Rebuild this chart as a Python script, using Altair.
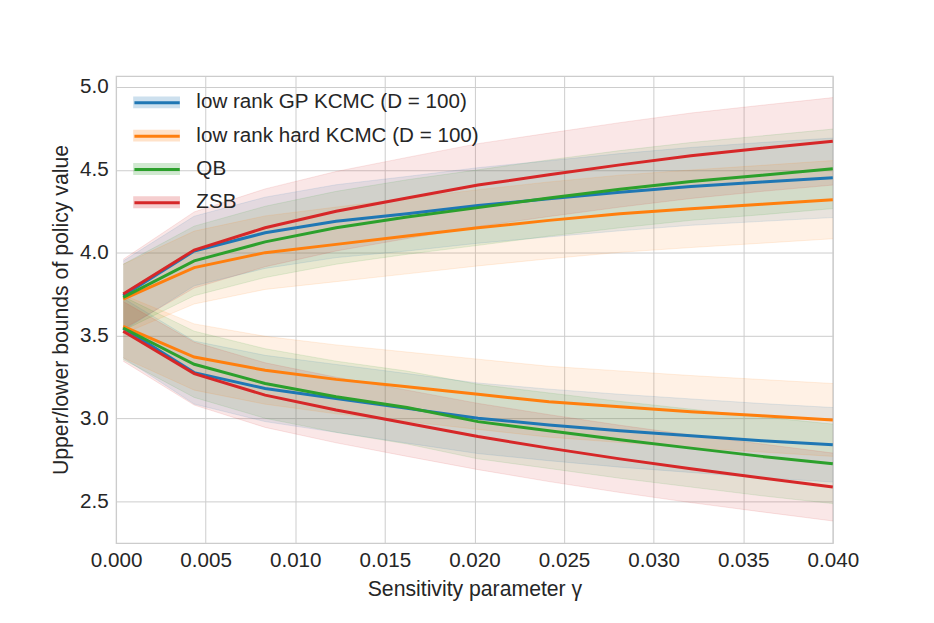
import altair as alt
import pandas as pd

# ---- data ----
gamma = [0.0004, 0.00436, 0.00832, 0.01228, 0.01624, 0.0202,
         0.02416, 0.02812, 0.03208, 0.03604, 0.04]

methods = ["low rank GP KCMC (D = 100)", "low rank hard KCMC (D = 100)", "QB", "ZSB"]
colors = ["#1f77b4", "#ff7f0e", "#2ca02c", "#d62728"]

# upper bound means
gp_upper = [3.74, 4.01, 4.12, 4.19, 4.235, 4.285, 4.325, 4.365, 4.40, 4.427, 4.452]
hard_upper = [3.72, 3.91, 4.00, 4.05, 4.10, 4.15, 4.195, 4.235, 4.265, 4.292, 4.32]
qb_upper = [3.73, 3.95, 4.065, 4.15, 4.215, 4.272, 4.33, 4.383, 4.43, 4.467, 4.506]
zsb_upper = [3.75, 4.016, 4.15, 4.25, 4.33, 4.408, 4.47, 4.53, 4.585, 4.63, 4.672]

# upper bound band half widths
gp_upper_sd = [0.21, 0.21, 0.215, 0.22, 0.225, 0.228, 0.23, 0.233, 0.235, 0.238, 0.24]
hard_upper_sd = [0.21, 0.22, 0.222, 0.225, 0.228, 0.23, 0.232, 0.233, 0.234, 0.235, 0.236]
qb_upper_sd = [0.20, 0.21, 0.215, 0.22, 0.225, 0.228, 0.23, 0.233, 0.235, 0.238, 0.24]
zsb_upper_sd = [0.21, 0.23, 0.235, 0.24, 0.245, 0.25, 0.252, 0.255, 0.258, 0.26, 0.264]

# lower bound means
gp_lower = [3.545, 3.276, 3.18, 3.12, 3.06, 3.00, 2.96, 2.925, 2.895, 2.865, 2.84]
hard_lower = [3.555, 3.37, 3.29, 3.235, 3.19, 3.145, 3.10, 3.07, 3.04, 3.015, 2.99]
qb_lower = [3.545, 3.326, 3.21, 3.13, 3.065, 2.98, 2.925, 2.87, 2.82, 2.77, 2.725]
zsb_lower = [3.525, 3.27, 3.14, 3.05, 2.97, 2.89, 2.82, 2.755, 2.695, 2.64, 2.585]

# lower bound band half widths
gp_lower_sd = [0.18, 0.19, 0.20, 0.205, 0.21, 0.213, 0.216, 0.22, 0.222, 0.224, 0.225]
hard_lower_sd = [0.19, 0.20, 0.205, 0.208, 0.21, 0.212, 0.214, 0.216, 0.218, 0.219, 0.22]
qb_lower_sd = [0.19, 0.20, 0.21, 0.215, 0.22, 0.225, 0.228, 0.232, 0.235, 0.238, 0.24]
zsb_lower_sd = [0.18, 0.19, 0.195, 0.198, 0.20, 0.20, 0.202, 0.203, 0.204, 0.205, 0.205]

x_ticks = [0.0, 0.005, 0.01, 0.015, 0.02, 0.025, 0.03, 0.035, 0.04]
y_ticks = [2.5, 3.0, 3.5, 4.0, 4.5, 5.0]

series = [
    (methods[0], gp_upper, gp_upper_sd, gp_lower, gp_lower_sd),
    (methods[1], hard_upper, hard_upper_sd, hard_lower, hard_lower_sd),
    (methods[2], qb_upper, qb_upper_sd, qb_lower, qb_lower_sd),
    (methods[3], zsb_upper, zsb_upper_sd, zsb_lower, zsb_lower_sd),
]

rows = []
for k, (name, up, up_sd, lo, lo_sd) in enumerate(series):
    for bound, mean, sd in (("upper", up, up_sd), ("lower", lo, lo_sd)):
        for g, m, s in zip(gamma, mean, sd):
            rows.append({"gamma": g, "value": m, "lo": m - s, "hi": m + s,
                         "method": name, "bound": bound, "order": k})
df = pd.DataFrame(rows)

FONT = "Liberation Sans"
TXT = "#262626"
FS = 20.8
TFS = 21.4

x_enc = alt.X("gamma:Q", scale=alt.Scale(domain=[0, 0.04], nice=False, zero=False),
              axis=alt.Axis(values=x_ticks, format=".3f", labelFlush=False,
                            title="Sensitivity parameter γ"))
y_scale = alt.Scale(domain=[2.247, 5.066], nice=False, zero=False)
y_axis = alt.Axis(values=y_ticks, format=".1f", labelFlush=False,
                  title="Upper/lower bounds of policy value")

# legend symbol shapes (unit coordinates of the symbol)
RECT_PATH = "M-0.74,-0.46H3.26V0.46H-0.74Z"
LINE_PATH = "M-0.74,0H3.26"
SYM_SIZE = 522
LEG_OFF = 14

bands = alt.Chart(df).mark_area(opacity=0.11).encode(
    x=x_enc,
    y=alt.Y("lo:Q", scale=y_scale, axis=y_axis),
    y2="hi:Q",
    fill=alt.Fill("method:N", scale=alt.Scale(domain=methods, range=colors),
                  legend=alt.Legend(title=None, orient="top-left", offset=LEG_OFF,
                                    symbolType=RECT_PATH, symbolSize=SYM_SIZE,
                                    symbolOpacity=0.22, labelLimit=500,
                                    labelOffset=42, rowPadding=10.6)),
    detail="bound:N",
)

edge_scale = alt.Scale(domain=methods, range=colors)

edge_hi = alt.Chart(df).mark_line(strokeWidth=1, strokeOpacity=0.12).encode(
    x=x_enc,
    y=alt.Y("hi:Q", scale=y_scale),
    color=alt.Color("method:N", scale=edge_scale, legend=None),
    detail="bound:N",
)
edge_lo = alt.Chart(df).mark_line(strokeWidth=1, strokeOpacity=0.12).encode(
    x=x_enc,
    y=alt.Y("lo:Q", scale=y_scale),
    color=alt.Color("method:N", scale=edge_scale, legend=None),
    detail="bound:N",
)

lines = alt.Chart(df).mark_line(strokeWidth=3).encode(
    x=x_enc,
    y=alt.Y("value:Q", scale=y_scale),
    stroke=alt.Stroke("method:N", scale=alt.Scale(domain=methods, range=colors),
                      legend=alt.Legend(title=None, orient="none",
                                        legendX=LEG_OFF, legendY=LEG_OFF,
                                        symbolType=LINE_PATH, symbolSize=SYM_SIZE,
                                        symbolStrokeWidth=3, labelOpacity=0,
                                        labelLimit=500, labelOffset=42, rowPadding=10.6)),
    detail="bound:N",
)

chart = alt.layer(bands, edge_hi, edge_lo, lines).properties(
    width=723, height=471,
    autosize=alt.AutoSizeParams(type="none"),
    padding={"left": 109, "top": 66, "right": 94, "bottom": 78},
    background="white",
).configure_view(
    stroke="#cccccc", strokeWidth=1.25
).configure_axis(
    domain=False, ticks=False, grid=True, gridColor="#cccccc", gridWidth=1,
    labelFont=FONT, labelFontSize=FS, labelColor=TXT, labelPadding=8,
    titleFont=FONT, titleFontSize=TFS, titleColor=TXT, titleFontWeight="normal",
    titlePadding=8,
).configure_legend(
    labelFont=FONT, labelFontSize=FS, labelColor=TXT, padding=0,
)

chart.save("out.html", embed_options={"renderer": "svg", "actions": False})
